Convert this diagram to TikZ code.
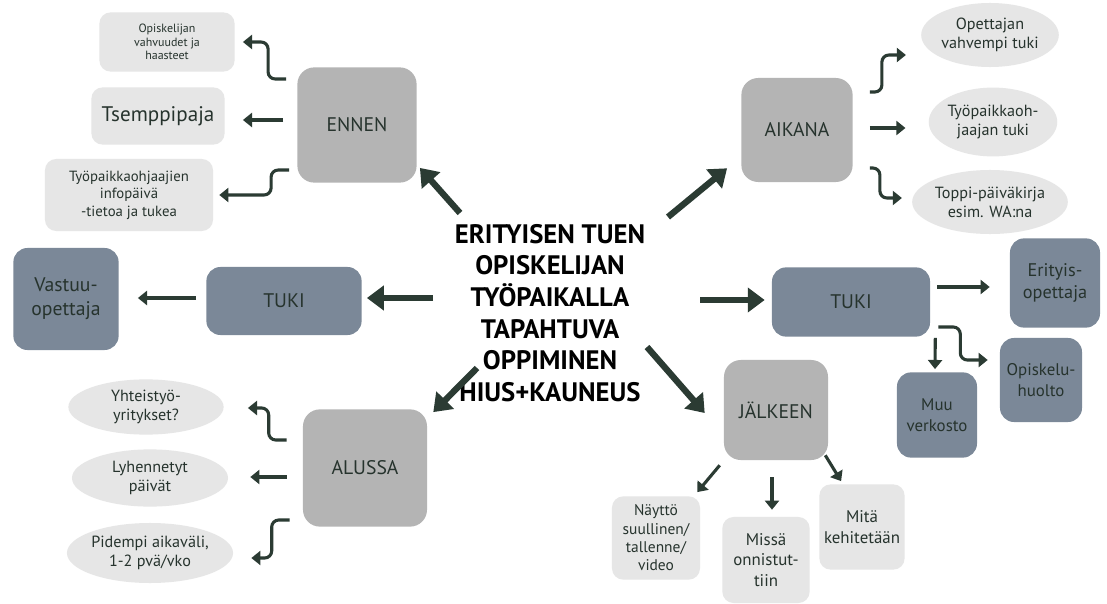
\documentclass[tikz,border=0pt]{standalone}
\usepackage{fontspec}
\setmainfont{PT Sans}
\usetikzlibrary{arrows.meta,shapes.geometric,calc}

\definecolor{arrowgreen}{HTML}{2B3B33}
\definecolor{textgreen}{HTML}{26332D}
\definecolor{boxlight}{HTML}{E6E6E6}
\definecolor{boxgray}{HTML}{B4B4B4}
\definecolor{boxblue}{HTML}{7B8898}

\tikzset{
	arr/.style={draw=arrowgreen, line width=2.2pt, rounded corners=5pt, -{Triangle[length=6.5pt,width=10pt]}},
	bigarr/.style={draw=arrowgreen, line width=4.5pt, -{Triangle[length=12pt,width=17pt]}},
	lightbox/.style={fill=boxlight, rounded corners=8pt, align=center, text=textgreen, inner sep=0pt},
	lightoval/.style={fill=boxlight, ellipse, align=center, text=textgreen, inner sep=0pt},
	graybox/.style={fill=boxgray, rounded corners=12pt, align=center, text=textgreen, inner sep=0pt, font=\fontsize{14}{16}\selectfont},
	bluebox/.style={fill=boxblue, rounded corners=10pt, align=center, text=textgreen, inner sep=0pt}
}

\begin{document}
\begin{tikzpicture}[x=0.025cm, y=-0.025cm]
		\fill[white] (0,0) rectangle (1107,604);
		\useasboundingbox (0,0) rectangle (1107,604);
		% Mitte
		\node[font=\fontsize{19}{22.5}\selectfont\bfseries, align=center] (title) at (550,313) {ERITYISEN TUEN\\OPISKELIJAN\\TYÖPAIKALLA\\TAPAHTUVA\\OPPIMINEN\\HIUS+KAUNEUS};
		% ENNEN
		\node[graybox, minimum width=2.98cm, minimum height=2.88cm] (ennen) at (357,125) {ENNEN};
		\node[lightbox, minimum width=3.38cm, minimum height=1.48cm, font=\fontsize{8.5}{9.5}\selectfont] (vahv) at (167,42) {Opiskelijan\\vahvuudet ja\\haasteet};
		\node[lightbox, minimum width=3.33cm, minimum height=1.43cm, font=\fontsize{15}{17}\selectfont] (tsemp) at (158,116) {Tsemppipaja};
		\node[lightbox, minimum width=4.2cm, minimum height=1.8cm, font=\fontsize{10.5}{12.5}\selectfont] (infop) at (129,195) {Työpaikkaohjaajien\\infopäivä\\-tietoa ja tukea};
		\draw[arr] ($(ennen.west)+(-11,-46)$) -- ++(-18,0) |- ($(vahv.east)+(8,0)$);
		\draw[arr] ($(ennen.west)+(-14,-5)$) -- ($(tsemp.east)+(18,4)$);
		\draw[arr] ($(ennen.west)+(-8,45)$) -- ++(-18,0) |- ($(infop.east)+(6,0)$);
		% AIKANA
		\node[graybox, minimum width=2.78cm, minimum height=2.6cm] (aikana) at (797,130) {AIKANA};
		\node[lightoval, minimum width=3.35cm, minimum height=1.6cm, font=\fontsize{11.5}{13.5}\selectfont] (opett) at (990,35) {Opettajan\\vahvempi tuki};
		\node[lightoval, minimum width=3.2cm, minimum height=1.72cm, font=\fontsize{11.5}{13.5}\selectfont] (tptuki) at (993,122) {Työpaikkaoh-\\jaajan tuki};
		\node[lightoval, minimum width=3.38cm, minimum height=1.6cm, font=\fontsize{11.5}{13.5}\selectfont] (toppi) at (990,202) {Toppi-päiväkirja\\esim. WA:na};
		\draw[arr] ($(aikana.east)+(17,-38)$) -- ++(12,0) |- ($(opett.west)+(-15,20)$);
		\draw[arr] ($(aikana.east)+(17,-2)$) -- ($(tptuki.west)+(-23,6)$);
		\draw[arr] ($(aikana.east)+(17,38)$) -- ++(10,0) |- ($(toppi.west)+(-10,-4)$);
		% TUKI vasen
		\node[bluebox, minimum width=3.88cm, minimum height=1.7cm, font=\fontsize{14}{16}\selectfont] (tukiv) at (284,301) {TUKI};
		\node[bluebox, minimum width=2.63cm, minimum height=2.55cm, font=\fontsize{14}{17}\selectfont] (vastuu) at (66,299) {Vastuu-\\opettaja};
		\draw[arr] ($(tukiv.west)+(-10,-3)$) -- ($(vastuu.east)+(19,-1)$);
		% TUKI oikea
		\node[bluebox, minimum width=3.95cm, minimum height=1.73cm, font=\fontsize{14}{16}\selectfont] (tukio) at (851,302) {TUKI};
		\node[bluebox, minimum width=2.25cm, minimum height=2.23cm, font=\fontsize{13}{15.5}\selectfont] (erit) at (1055,283) {Erityis-\\opettaja};
		\node[bluebox, minimum width=2.05cm, minimum height=2.1cm, font=\fontsize{12}{14.5}\selectfont] (huolto) at (1041,380) {Opiskelu-\\huolto};
		\node[bluebox, minimum width=2.0cm, minimum height=2.13cm, font=\fontsize{12}{14.5}\selectfont] (muu) at (937,415) {Muu\\verkosto};
		\draw[arr] ($(tukio.east)+(7,-15)$) -- ($(erit.west)+(-20,4)$);
		\draw[arr] ($(tukio.south east)+(5,1)$) -- ($(muu.north)+(-2,-3)$);
		\draw[arr] ($(tukio.east)+(8,25)$) -- ++(22,0) |- ($(huolto.west)+(-12,-20)$);
		% ALUSSA
		\node[graybox, minimum width=3.1cm, minimum height=2.93cm] (alussa) at (365,468) {ALUSSA};
		\node[lightoval, minimum width=3.88cm, minimum height=1.38cm, font=\fontsize{11.5}{13.5}\selectfont] (yht) at (146,407) {Yhteistyö-\\yritykset?};
		\node[lightoval, minimum width=3.9cm, minimum height=1.43cm, font=\fontsize{11.5}{13.5}\selectfont] (lyh) at (150,478) {Lyhennetyt\\päivät};
		\node[lightoval, minimum width=4.13cm, minimum height=1.5cm, font=\fontsize{11.5}{13.5}\selectfont] (pid) at (150,553) {Pidempi aikaväli,\\1-2 pvä/vko};
		\draw[arr] ($(alussa.west)+(-16,-28)$) -- ++(-18,0) |- ($(yht.east)+(24,1)$);
		\draw[arr] ($(alussa.west)+(-16,9)$) -- ($(lyh.east)+(22,-1)$);
		\draw[arr] ($(alussa.west)+(-13,52)$) -- ++(-18,0) |- ($(pid.east)+(18,5)$);
		% JÄLKEEN
		\node[graybox, minimum width=2.6cm, minimum height=2.5cm] (jalk) at (776,410) {JÄLKEEN};
		\node[lightbox, minimum width=2.2cm, minimum height=2.08cm, font=\fontsize{11}{13}\selectfont] (nayt) at (656,538) {Näyttö\\suullinen/\\tallenne/\\video};
		\node[lightbox, minimum width=2.18cm, minimum height=2.15cm, font=\fontsize{12}{14.5}\selectfont] (missa) at (766,560) {Missä\\onnistut-\\tiin};
		\node[lightbox, minimum width=2.13cm, minimum height=2.13cm, font=\fontsize{12}{14.5}\selectfont] (mita) at (862,527) {Mitä\\kehitetään};
		\draw[arr] ($(jalk.south west)+(-4,5)$) -- ($(nayt.north east)+(-3,-4)$);
		\draw[arr] ($(jalk.south)+(-4,17)$) -- ($(missa.north)+(6,-7)$);
		\draw[arr] ($(jalk.south east)+(-3,-5)$) -- ($(mita.north west)+(22,-3)$);
		% Mitta-nuolet
		\draw[bigarr] ($(title)+(-90,-100)$) -- ($(ennen.south east)+(3,-15)$);
		\draw[bigarr] ($(title)+(118,-96)$) -- ($(aikana.south west)+(-14,-14)$);
		\draw[bigarr] ($(title)+(-117,-15)$) -- ($(tukiv.east)+(5,-3)$);
		\draw[bigarr] ($(title)+(150,-13)$) -- ($(tukio.west)+(-7,-2)$);
		\draw[bigarr] ($(title)+(-73,55)$) -- ($(alussa.north east)+(6,3)$);
		\draw[bigarr] ($(title)+(97,34)$) -- ($(jalk.west)+(-19,3)$);
	\end{tikzpicture}
\end{document}
